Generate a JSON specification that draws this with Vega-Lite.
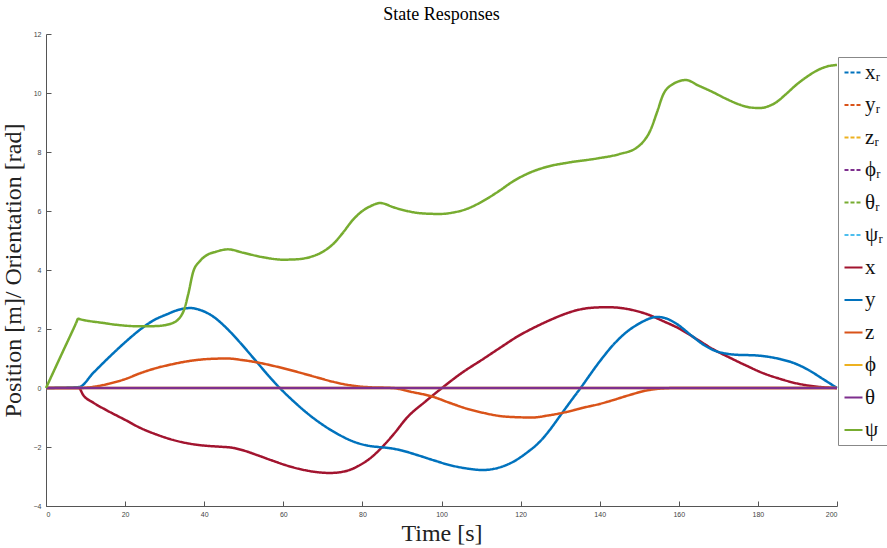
{
  "$schema": "https://vega.github.io/schema/vega-lite/v6.json",
  "autosize": "none",
  "width": 791,
  "height": 472,
  "padding": {"left": 46, "top": 34, "right": 50, "bottom": 42},
  "background": "white",
  "title": {"text": "State Responses", "font": "Liberation Serif", "fontSize": 18, "fontWeight": "normal", "color": "#000", "offset": 6, "anchor": "middle"},
  "config": {
    "view": {"stroke": null},
    "axis": {"grid": false, "domainColor": "#555", "tickColor": "#555", "labelColor": "#444", "labelFont": "Liberation Sans", "labelFontSize": 7, "titleFont": "Liberation Serif", "titleFontWeight": "normal", "titleColor": "#222", "titleFontSize": 24}
  },
  "data": {"values": [
    {"s":"x","t":0,"v":0},{"s":"x","t":8.3,"v":0},{"s":"x","t":9.4,"v":-0.24},{"s":"x","t":12,"v":-0.5},{"s":"x","t":15.4,"v":-0.76},{"s":"x","t":20,"v":-1.08},{"s":"x","t":23.8,"v":-1.35},{"s":"x","t":28,"v":-1.58},{"s":"x","t":32.1,"v":-1.76},{"s":"x","t":36,"v":-1.88},{"s":"x","t":40.6,"v":-1.96},{"s":"x","t":44,"v":-1.99},{"s":"x","t":47.3,"v":-2.03},{"s":"x","t":50,"v":-2.12},{"s":"x","t":53.3,"v":-2.27},{"s":"x","t":57,"v":-2.45},{"s":"x","t":61.7,"v":-2.66},{"s":"x","t":66,"v":-2.8},{"s":"x","t":69,"v":-2.86},{"s":"x","t":71.8,"v":-2.88},{"s":"x","t":75,"v":-2.84},{"s":"x","t":77.5,"v":-2.74},{"s":"x","t":79.4,"v":-2.61},{"s":"x","t":82,"v":-2.38},{"s":"x","t":84.5,"v":-2.07},{"s":"x","t":88,"v":-1.55},{"s":"x","t":91.3,"v":-1.0},{"s":"x","t":96,"v":-0.45},{"s":"x","t":100.4,"v":0.03},{"s":"x","t":105,"v":0.5},{"s":"x","t":110.5,"v":0.98},{"s":"x","t":115,"v":1.38},{"s":"x","t":119,"v":1.73},{"s":"x","t":123,"v":2.02},{"s":"x","t":127.4,"v":2.3},{"s":"x","t":131,"v":2.5},{"s":"x","t":134.3,"v":2.64},{"s":"x","t":138,"v":2.72},{"s":"x","t":142,"v":2.74},{"s":"x","t":146,"v":2.7},{"s":"x","t":149,"v":2.62},{"s":"x","t":152,"v":2.5},{"s":"x","t":156,"v":2.27},{"s":"x","t":160.3,"v":2.0},{"s":"x","t":164,"v":1.7},{"s":"x","t":168.6,"v":1.32},{"s":"x","t":173,"v":1.02},{"s":"x","t":177.2,"v":0.75},{"s":"x","t":181,"v":0.52},{"s":"x","t":185.6,"v":0.31},{"s":"x","t":190,"v":0.15},{"s":"x","t":194,"v":0.06},{"s":"x","t":200,"v":0},
    {"s":"y","t":0,"v":0},{"s":"y","t":8.3,"v":0.03},{"s":"y","t":12,"v":0.52},{"s":"y","t":16,"v":1.05},{"s":"y","t":20,"v":1.55},{"s":"y","t":23.8,"v":1.98},{"s":"y","t":27,"v":2.28},{"s":"y","t":30.6,"v":2.5},{"s":"y","t":33.5,"v":2.65},{"s":"y","t":36.4,"v":2.71},{"s":"y","t":39.5,"v":2.62},{"s":"y","t":42.3,"v":2.42},{"s":"y","t":45.5,"v":2.05},{"s":"y","t":49,"v":1.55},{"s":"y","t":53.3,"v":0.88},{"s":"y","t":56.5,"v":0.38},{"s":"y","t":59.7,"v":-0.08},{"s":"y","t":63,"v":-0.5},{"s":"y","t":66,"v":-0.85},{"s":"y","t":70,"v":-1.25},{"s":"y","t":74.3,"v":-1.6},{"s":"y","t":78,"v":-1.83},{"s":"y","t":81.2,"v":-1.95},{"s":"y","t":84,"v":-2.0},{"s":"y","t":87,"v":-2.04},{"s":"y","t":90,"v":-2.12},{"s":"y","t":93.8,"v":-2.27},{"s":"y","t":98,"v":-2.45},{"s":"y","t":102,"v":-2.61},{"s":"y","t":106,"v":-2.72},{"s":"y","t":110.5,"v":-2.78},{"s":"y","t":114.5,"v":-2.7},{"s":"y","t":118,"v":-2.51},{"s":"y","t":121.5,"v":-2.2},{"s":"y","t":125,"v":-1.8},{"s":"y","t":127.5,"v":-1.4},{"s":"y","t":130,"v":-0.94},{"s":"y","t":132.5,"v":-0.48},{"s":"y","t":135,"v":-0.03},{"s":"y","t":140,"v":0.9},{"s":"y","t":143.4,"v":1.46},{"s":"y","t":147,"v":1.92},{"s":"y","t":150.2,"v":2.2},{"s":"y","t":152.5,"v":2.35},{"s":"y","t":154.5,"v":2.41},{"s":"y","t":157,"v":2.35},{"s":"y","t":159.5,"v":2.17},{"s":"y","t":163,"v":1.8},{"s":"y","t":166.1,"v":1.48},{"s":"y","t":169,"v":1.27},{"s":"y","t":172.2,"v":1.16},{"s":"y","t":175.5,"v":1.12},{"s":"y","t":178.8,"v":1.11},{"s":"y","t":182,"v":1.07},{"s":"y","t":185.6,"v":0.98},{"s":"y","t":189,"v":0.85},{"s":"y","t":192.4,"v":0.64},{"s":"y","t":196.5,"v":0.3},{"s":"y","t":200,"v":0},
    {"s":"z","t":0,"v":0},{"s":"z","t":8.3,"v":0},{"s":"z","t":12,"v":0.04},{"s":"z","t":15.4,"v":0.13},{"s":"z","t":20,"v":0.3},{"s":"z","t":23.8,"v":0.5},{"s":"z","t":28,"v":0.68},{"s":"z","t":32.1,"v":0.81},{"s":"z","t":35.5,"v":0.9},{"s":"z","t":38.9,"v":0.96},{"s":"z","t":42,"v":0.99},{"s":"z","t":45.8,"v":1.0},{"s":"z","t":49.5,"v":0.95},{"s":"z","t":53.3,"v":0.87},{"s":"z","t":57.5,"v":0.75},{"s":"z","t":61.7,"v":0.61},{"s":"z","t":64.2,"v":0.52},{"s":"z","t":68.5,"v":0.36},{"s":"z","t":72.6,"v":0.21},{"s":"z","t":77,"v":0.09},{"s":"z","t":81.2,"v":0.03},{"s":"z","t":87.7,"v":0},{"s":"z","t":92,"v":-0.12},{"s":"z","t":97.9,"v":-0.3},{"s":"z","t":102,"v":-0.5},{"s":"z","t":106.4,"v":-0.7},{"s":"z","t":110.5,"v":-0.84},{"s":"z","t":114.8,"v":-0.95},{"s":"z","t":119,"v":-0.99},{"s":"z","t":123,"v":-1.0},{"s":"z","t":127,"v":-0.93},{"s":"z","t":131.7,"v":-0.81},{"s":"z","t":135.5,"v":-0.68},{"s":"z","t":140,"v":-0.54},{"s":"z","t":143.4,"v":-0.41},{"s":"z","t":147.5,"v":-0.24},{"s":"z","t":152,"v":-0.08},{"s":"z","t":155.5,"v":-0.02},{"s":"z","t":159.5,"v":0},{"s":"z","t":200,"v":0},
    {"s":"ϕ","t":0,"v":0},{"s":"ϕ","t":200,"v":0},
    {"s":"θ","t":0,"v":0},{"s":"θ","t":200,"v":0},
    {"s":"ψ","t":0,"v":0},{"s":"ψ","t":4,"v":1.16},{"s":"ψ","t":7.7,"v":2.23},{"s":"ψ","t":8.1,"v":2.35},{"s":"ψ","t":8.6,"v":2.33},{"s":"ψ","t":10,"v":2.29},{"s":"ψ","t":13.7,"v":2.22},{"s":"ψ","t":18,"v":2.14},{"s":"ψ","t":23.8,"v":2.09},{"s":"ψ","t":28,"v":2.1},{"s":"ψ","t":32,"v":2.2},{"s":"ψ","t":34.7,"v":2.58},{"s":"ψ","t":36,"v":3.2},{"s":"ψ","t":37.2,"v":3.93},{"s":"ψ","t":38.9,"v":4.3},{"s":"ψ","t":40.6,"v":4.5},{"s":"ψ","t":43,"v":4.62},{"s":"ψ","t":46,"v":4.7},{"s":"ψ","t":50,"v":4.58},{"s":"ψ","t":55,"v":4.43},{"s":"ψ","t":59.9,"v":4.35},{"s":"ψ","t":63,"v":4.36},{"s":"ψ","t":66.8,"v":4.44},{"s":"ψ","t":70,"v":4.62},{"s":"ψ","t":72.6,"v":4.88},{"s":"ψ","t":75,"v":5.25},{"s":"ψ","t":77.6,"v":5.7},{"s":"ψ","t":80,"v":6.0},{"s":"ψ","t":82,"v":6.16},{"s":"ψ","t":84.5,"v":6.27},{"s":"ψ","t":88,"v":6.12},{"s":"ψ","t":91.3,"v":6.0},{"s":"ψ","t":95,"v":5.92},{"s":"ψ","t":99.6,"v":5.9},{"s":"ψ","t":103,"v":5.95},{"s":"ψ","t":106.4,"v":6.07},{"s":"ψ","t":110,"v":6.3},{"s":"ψ","t":114.8,"v":6.7},{"s":"ψ","t":117.8,"v":6.98},{"s":"ψ","t":122,"v":7.28},{"s":"ψ","t":126.7,"v":7.5},{"s":"ψ","t":132,"v":7.64},{"s":"ψ","t":139.3,"v":7.78},{"s":"ψ","t":145,"v":7.93},{"s":"ψ","t":149.4,"v":8.15},{"s":"ψ","t":151,"v":8.35},{"s":"ψ","t":152.7,"v":8.7},{"s":"ψ","t":154.5,"v":9.35},{"s":"ψ","t":156,"v":9.93},{"s":"ψ","t":158.5,"v":10.3},{"s":"ψ","t":161.8,"v":10.44},{"s":"ψ","t":165,"v":10.25},{"s":"ψ","t":168.6,"v":10.03},{"s":"ψ","t":172,"v":9.8},{"s":"ψ","t":175.5,"v":9.6},{"s":"ψ","t":178,"v":9.51},{"s":"ψ","t":180.5,"v":9.49},{"s":"ψ","t":183,"v":9.57},{"s":"ψ","t":184.8,"v":9.7},{"s":"ψ","t":187,"v":9.95},{"s":"ψ","t":189.9,"v":10.3},{"s":"ψ","t":192.5,"v":10.56},{"s":"ψ","t":194.9,"v":10.76},{"s":"ψ","t":197.5,"v":10.9},{"s":"ψ","t":200,"v":10.95}
  ]},
  "mark": {"type": "line", "strokeWidth": 2.5, "interpolate": "monotone"},
  "encoding": {
    "x": {"field": "t", "type": "quantitative", "scale": {"domain": [0, 200], "nice": false, "zero": false},
      "axis": {"title": "Time [s]", "values": [0,20,40,60,80,100,120,140,160,180,200], "tickSize": -5, "labelPadding": 9, "titlePadding": 4}},
    "y": {"field": "v", "type": "quantitative", "scale": {"domain": [-4, 12], "nice": false, "zero": false},
      "axis": {"title": "Position [m]/ Orientation [rad]", "values": [-4,-2,0,2,4,6,8,10,12], "tickSize": -5, "labelPadding": 10, "titlePadding": 8}},
    "color": {"field": "s", "type": "nominal",
      "scale": {"domain": ["xᵣ","yᵣ","zᵣ","ϕᵣ","θᵣ","ψᵣ","x","y","z","ϕ","θ","ψ"],
        "range": ["#0072BD","#D95319","#EDB120","#7E2F8E","#77AC30","#4DBEEE","#A2142F","#0072BD","#D95319","#EDB120","#7E2F8E","#77AC30"]},
      "legend": {"title": null, "orient": "none", "legendX": 792, "legendY": 23, "symbolType": "stroke", "symbolSize": 324, "symbolStrokeWidth": 2, "labelFont": "Liberation Serif", "labelFontSize": 21, "labelColor": "#111", "labelOffset": 1, "rowPadding": 10.5, "padding": 5, "strokeColor": "#888", "fillColor": "white", "labelLimit": 40}},
    "strokeDash": {"field": "s", "type": "nominal",
      "scale": {"domain": ["xᵣ","yᵣ","zᵣ","ϕᵣ","θᵣ","ψᵣ","x","y","z","ϕ","θ","ψ"],
        "range": [[4,2],[4,2],[4,2],[4,2],[4,2],[4,2],[1,0],[1,0],[1,0],[1,0],[1,0],[1,0]]},
      "legend": {"title": null, "orient": "none", "legendX": 792, "legendY": 23}}
  }
}
